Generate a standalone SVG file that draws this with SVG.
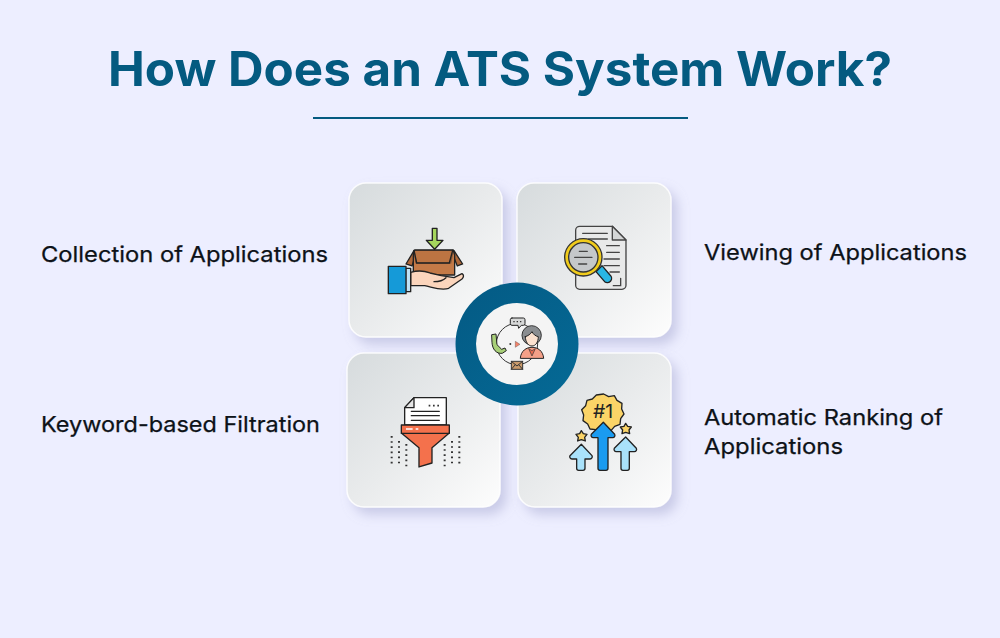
<svg xmlns="http://www.w3.org/2000/svg" width="1000" height="638" viewBox="0 0 1000 638">
<style>
.t{font-family:"Inter","Liberation Sans",sans-serif;font-weight:400;font-size:22px;fill:#0d1218;stroke:#0d1218;stroke-width:.25}
.h{font-family:"Inter","Liberation Sans",sans-serif;font-weight:700;font-size:48px;fill:#045a80}
.card{fill:url(#cg);stroke:#fff;stroke-opacity:.85;stroke-width:1.5;filter:url(#sh)}
.k{stroke:#222;stroke-width:4;stroke-linejoin:round;stroke-linecap:round}
.l{stroke:#222;stroke-width:4;stroke-linecap:round;fill:none}
.d{fill:none;stroke:#333;stroke-width:6;stroke-dasharray:5 10.5}
</style>
<defs>
<linearGradient id="cg" x1="0" y1="0" x2="1" y2="1"><stop offset="0" stop-color="#d6dbdd"/><stop offset=".5" stop-color="#e9ebec"/><stop offset="1" stop-color="#fdfdfd"/></linearGradient>
<linearGradient id="ring" x1="0" y1="0" x2="1" y2="1"><stop offset="0" stop-color="#045a84"/><stop offset="1" stop-color="#056a96"/></linearGradient>
<filter id="sh" x="-20%" y="-20%" width="145%" height="145%"><feDropShadow dx="6" dy="7" stdDeviation="6" flood-color="#8d8fc0" flood-opacity=".38"/></filter>
</defs>
<rect width="1000" height="638" fill="#edeeff"/>
<text id="title" class="h" x="500" y="86" text-anchor="middle" textLength="784" lengthAdjust="spacingAndGlyphs">How Does an ATS System Work?</text>
<rect id="rule" x="313" y="117" width="375" height="2" fill="#045a80"/>

<g id="node-collection">
<rect class="card" x="349" y="183" width="153" height="154" rx="17"/>
<g transform="translate(340 175) scale(.3333)">
<path class="k" fill="#a5d65d" d="M277 160h14v36h18l-25 27-25-27h18z"/>
<path class="k" fill="#b0693a" d="M222 227l-24 40 18 6 10-30zM342 227l26 40-16 6-12-30z"/>
<path class="k" fill="#c47a47" d="M220 240l4-15h116l4 15v60H220z"/>
<path class="k" fill="#b0693a" d="M222 226h118l-8 38h-104z" opacity=".35"/>
<path class="l" d="M222 226l8 38h98l10-38"/>
<path class="k" fill="#fbd5bc" d="M212 292c20-6 38-6 58 2l34 8 38 6 24-12c6 4 6 10 0 16l-40 28c-24 8-50-4-72-8h-42z"/>
<path class="l" d="M282 320c14 0 26-2 36-12"/>
<rect class="k" x="197" y="280" width="15" height="70" fill="#bfe3f6"/>
<rect class="k" x="145" y="274" width="53" height="82" fill="#159ad8"/>
</g>
<text class="t" x="41" y="262" textLength="287" lengthAdjust="spacingAndGlyphs">Collection of Applications</text>
</g>

<g id="node-viewing">
<rect class="card" x="517" y="183" width="154" height="154" rx="17"/>
<g transform="translate(510 175) scale(.3333)">
<path class="k" fill="#e8e9e9" d="M209 154h98l41 41v136a12 12 0 0 1-12 12H209a12 12 0 0 1-12-12V166a12 12 0 0 1 12-12z" style="stroke:#444"/>
<path class="k" fill="#d4d6d6" d="M307 154v41h41z" style="stroke:#444"/>
<path class="l" style="stroke:#444" d="M218 175h74M236 192h56M290 212h38M290 232h38M282 252h46M282 272h46M300 291h28M332 310v22h-22"/>
<path class="k" fill="#29b6e3" d="M258 290l18-18 24 28a12 12 0 0 1-16 20z"/>
<circle cx="220" cy="247" r="56" fill="#f1cc1c" stroke="#333" stroke-width="4"/>
<circle cx="220" cy="247" r="44" fill="#c5c8ca" stroke="#333" stroke-width="4"/>
<path class="l" style="stroke:#444" d="M208 229h24M194 247h52M206 267h24"/>
</g>
<text class="t" x="704" y="260" textLength="263" lengthAdjust="spacingAndGlyphs">Viewing of Applications</text>
</g>

<g id="node-filtration">
<rect class="card" x="347" y="353" width="153" height="154" rx="17"/>
<g transform="translate(340 345) scale(.3333)">
<path class="k" fill="#fff" d="M222 158h97v82H194v-52z"/>
<path class="k" fill="#e6e6e6" d="M222 158v30h-28z"/>
<path class="l" d="M214 199h84M214 212h84M214 226h84"/>
<path d="M266 182h5M279 182h5M292 182h5" stroke="#333" stroke-width="5"/>
<path class="k" fill="#f4714c" d="M184 240h144v24l-52 44v46l-39 12v-58l-53-44z"/>
<path class="l" d="M184 265h144"/>
<path d="M198 252h20M227 252h8" stroke="#fff" stroke-width="5"/>
<path class="d" d="M155 273v92M177 288v77M199 297v68M314 297v68M336 288v77M358 273v92"/>
</g>
<text class="t" x="41" y="432" textLength="279" lengthAdjust="spacingAndGlyphs">Keyword-based Filtration</text>
</g>

<g id="node-ranking">
<rect class="card" x="518" y="353" width="153" height="154" rx="17"/>
<g transform="translate(510 345) scale(.3333)">
<path class="k" fill="#fbd467" d="M281 147l15 8 17-3 8 14 15 9-1 17 7 15-10 14-2 17-16 6-11 13-17-2-15 8-14-9-17-2-7-15-14-10 2-17-6-16 12-12 4-16 16-4 12-12z"/>
<text x="279" y="218" text-anchor="middle" font-family="Inter,'Liberation Sans',sans-serif" font-size="58" font-weight="400" fill="#222">#1</text>
<path class="k" fill="#1a9bf0" d="M280 232l34 36c2 4 0 10-6 10h-14v92a6 6 0 0 1-6 6h-18a6 6 0 0 1-6-6v-92h-14c-6 0-8-6-6-10z"/>
<path class="k" fill="#a9e2fb" d="M214 298l32 34c2 4 0 10-6 10h-15v28a6 6 0 0 1-6 6h-13a6 6 0 0 1-6-6v-28h-14c-6 0-8-6-6-10z"/>
<path class="k" fill="#a9e2fb" d="M347 276l32 34c2 4 0 10-6 10h-15v50a6 6 0 0 1-6 6h-13a6 6 0 0 1-6-6v-50h-14c-6 0-8-6-6-10z"/>
<path class="k" fill="#fbd467" d="M214 257l6 9 11 2-7 9 2 11-12-4-11 4 2-11-7-9 11-2z"/>
<path class="k" fill="#fbd467" d="M347 235l6 9 11 2-7 9 2 11-12-4-11 4 2-11-7-9 11-2z"/>
</g>
<text class="t" x="704" y="425" textLength="239" lengthAdjust="spacingAndGlyphs">Automatic Ranking of</text>
<text class="t" x="704" y="454" textLength="139" lengthAdjust="spacingAndGlyphs">Applications</text>
</g>

<g id="node-center">
<circle cx="517" cy="344" r="61.5" fill="url(#ring)"/>
<circle cx="517" cy="344" r="41" fill="#f4f4f4"/>
<g transform="translate(450 278) scale(.3333)">
<circle cx="201" cy="198" r="62" fill="none" stroke="#333" stroke-width="3"/>
<path class="k" style="stroke-width:3" fill="#a8cf78" d="M126 170l12-2 3 32 14 14 10-4 4 8-12 8c-18 2-30-12-31-32z"/>
<path class="k" style="stroke-width:3" fill="#d7d8d8" d="M186 120h34a5 5 0 0 1 5 5v12a5 5 0 0 1-5 5h-6l-8 9-2-9h-18a5 5 0 0 1-5-5v-12a5 5 0 0 1 5-5z"/>
<path d="M190 131h4M200 131h4M210 131h4" stroke="#333" stroke-width="4"/>
<circle cx="181" cy="198" r="3" fill="#333"/>
<path d="M196 190l14 9-14 9z" fill="#f4836a" stroke="#333" stroke-width="1"/>
<path class="k" style="stroke-width:3" fill="#f4a088" d="M211 240c2-22 18-32 35-32s33 10 35 32z"/>
<circle cx="245" cy="172" r="29" fill="#8a8d90" stroke="#333" stroke-width="3"/>
<path class="k" style="stroke-width:3" fill="#fbe1cf" d="M226 176c8-2 16-8 20-15 4 8 10 13 19 15 0 16-8 28-19 28s-20-12-20-28z"/>
<path d="M236 212l10 6 10-6-10 22z" fill="#e86d52" stroke="#333" stroke-width="2"/>
<rect x="184" y="250" width="34" height="24" fill="#c99a6b" stroke="#333" stroke-width="3"/>
<path d="M184 250l17 14 17-14M184 274l12-14M218 274l-12-14" fill="none" stroke="#333" stroke-width="3"/>
</g>
</g>
</svg>
